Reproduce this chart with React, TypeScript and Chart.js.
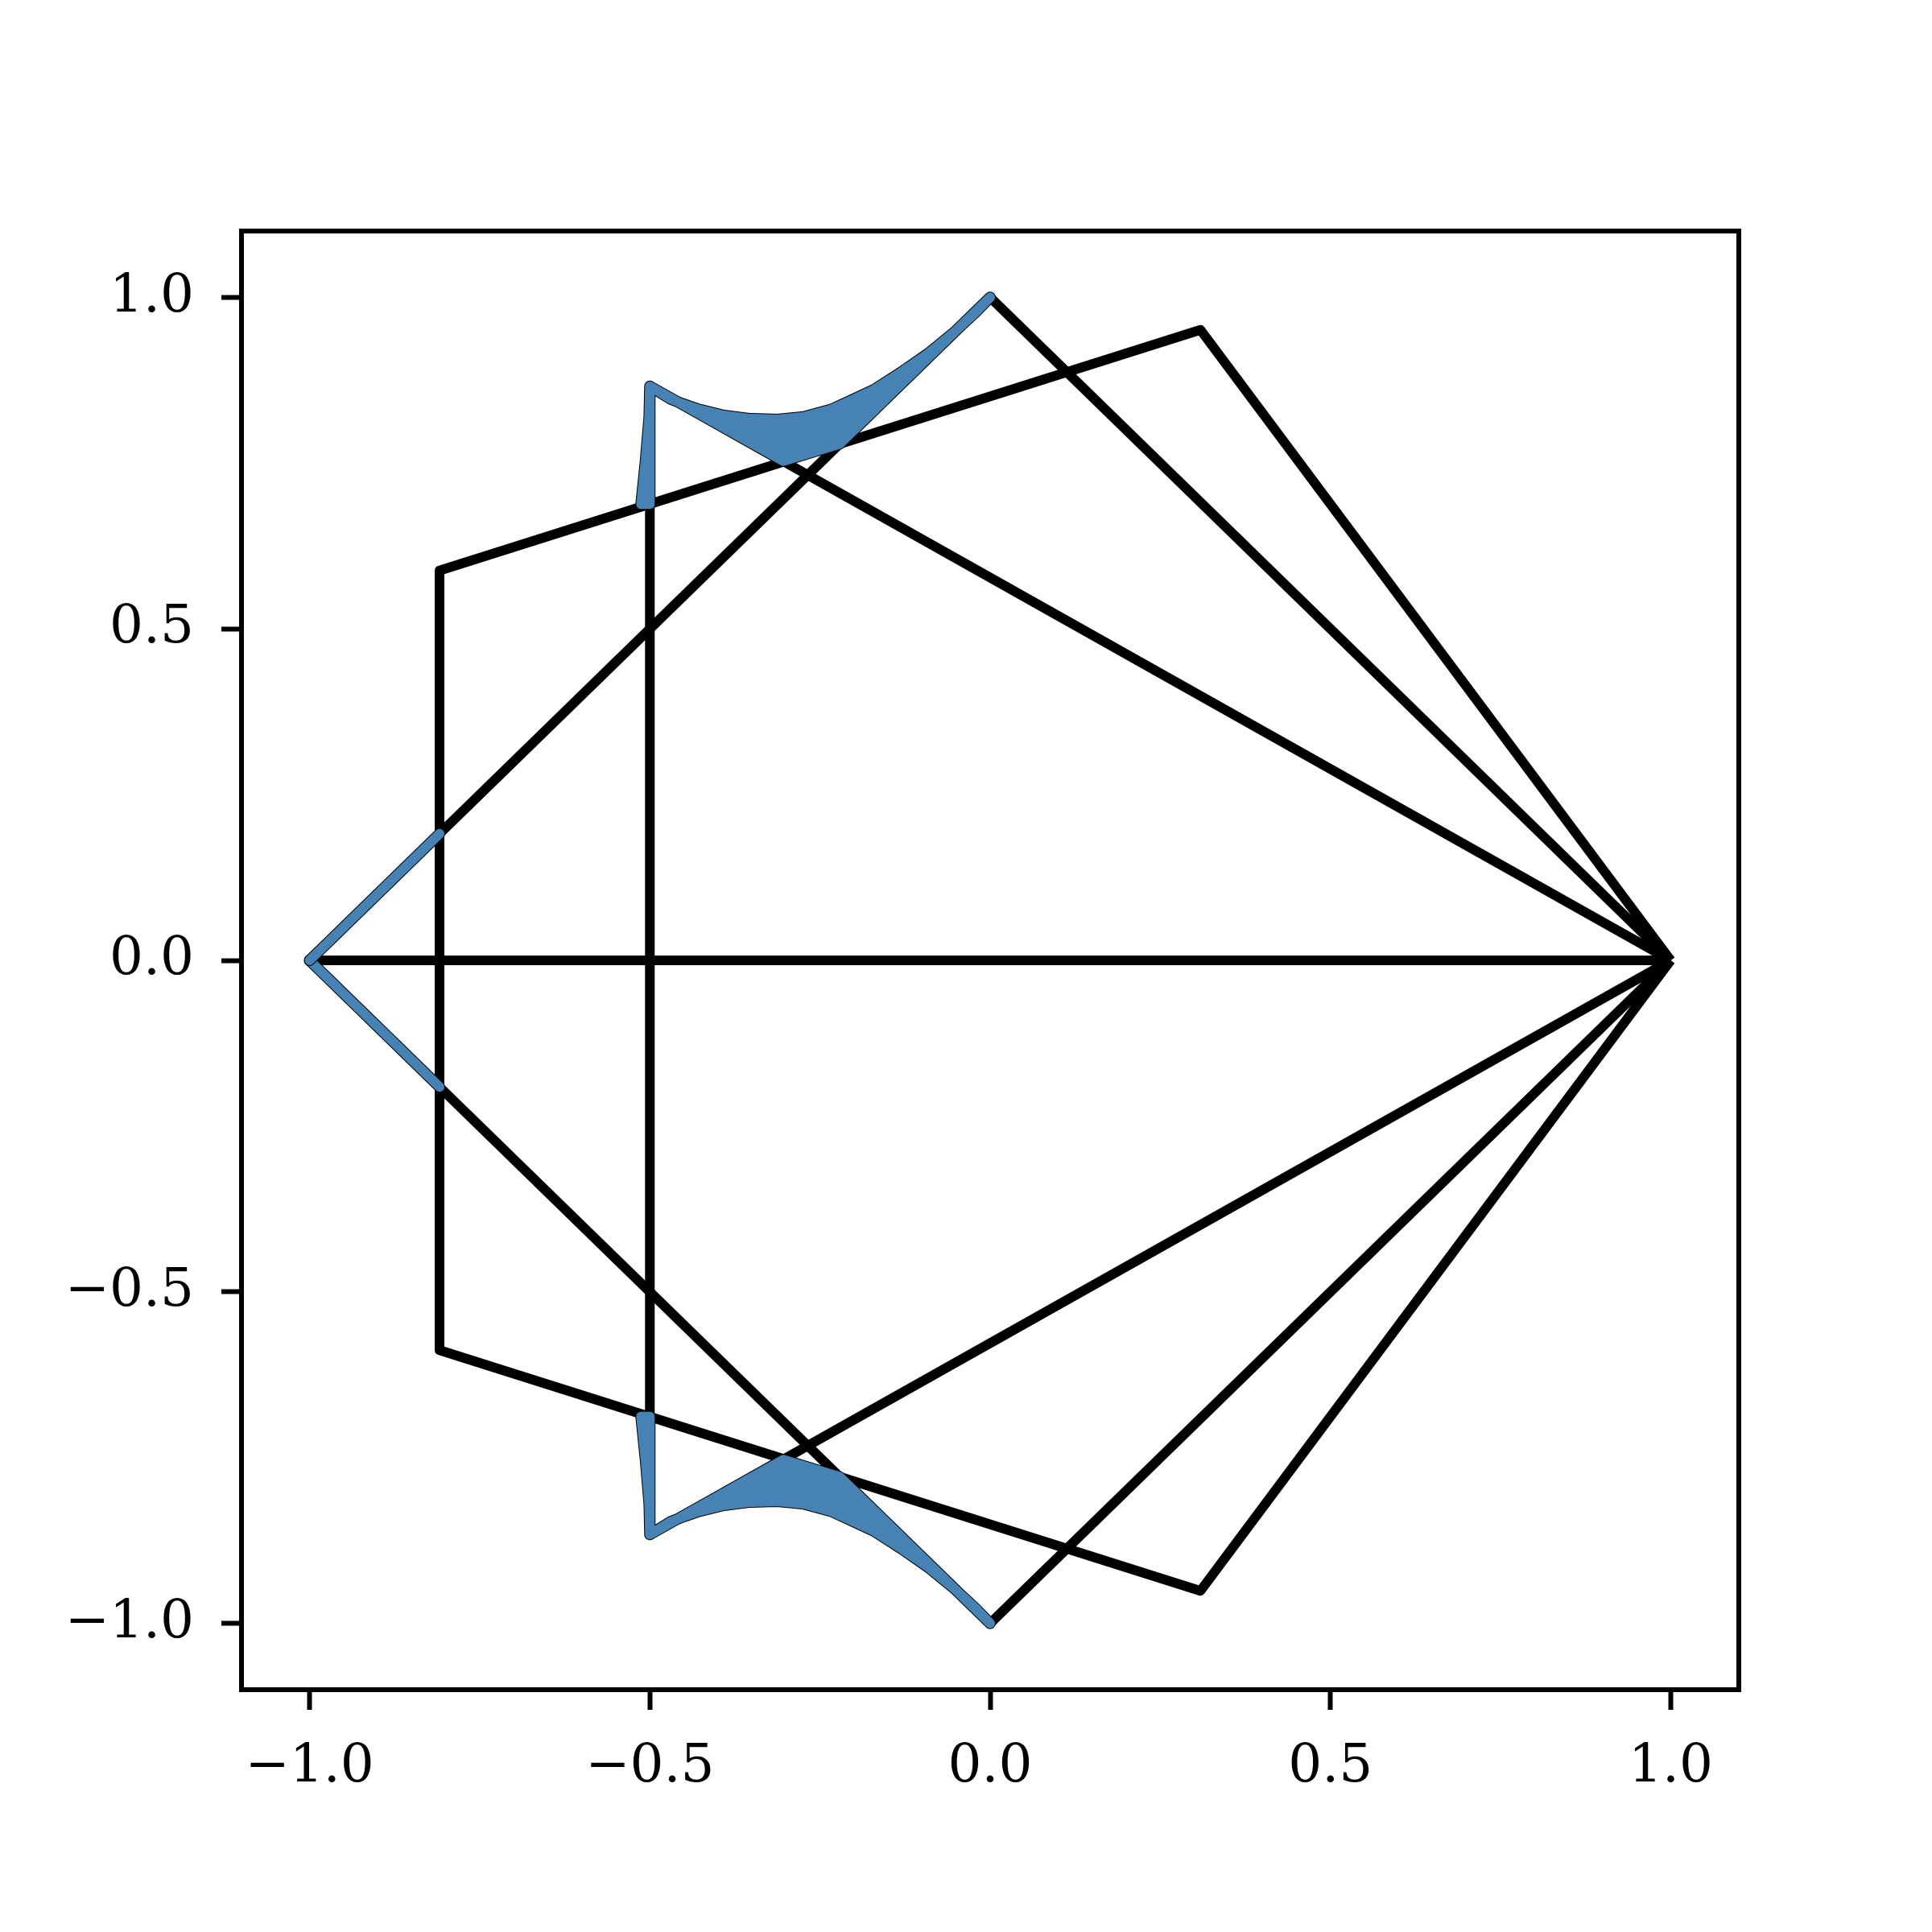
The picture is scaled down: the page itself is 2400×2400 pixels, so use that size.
import React, { useEffect, useRef } from 'react';
import { Chart, registerables } from 'chart.js';

Chart.register(...registerables);

// Tick values and labels
const xTickValues = [-1, -0.5, 0, 0.5, 1];
const xTickLabels = ['\u22121.0', '\u22120.5', '0.0', '0.5', '1.0'];
const yTickValues = [-1, -0.5, 0, 0.5, 1];
const yTickLabels = ['\u22121.0', '\u22120.5', '0.0', '0.5', '1.0'];

// Black polygons (closed)
const digonX = [1, -1];
const digonY = [0, 0];
const triangleX = [1, -0.5, -0.5, 1];
const triangleY = [0, 0.866, -0.866, 0];
const squareX = [1, 0, -1, 0, 1];
const squareY = [0, 1, 0, -1, 0];
const pentagonX = [1, 0.309, -0.809, -0.809, 0.309, 1];
const pentagonY = [0, 0.951, 0.588, -0.588, -0.951, 0];

// Blue filled regions
const topBlueX = [-0.513, -0.5065, -0.501, -0.5, -0.4703, -0.4505, -0.4308, -0.3914, -0.352, -0.3124, -0.273, -0.2336, -0.2099, -0.1704, -0.131, -0.0916, -0.0521, -0.0206, 0, -0.221, -0.304, -0.5, -0.5, -0.513];
const topBlueY = [0.688, 0.753, 0.82, 0.866, 0.847, 0.839, 0.832, 0.822, 0.817, 0.816, 0.82, 0.831, 0.842, 0.861, 0.887, 0.915, 0.948, 0.978, 1, 0.779, 0.753, 0.866, 0.688, 0.688];
const bottomBlueX = [-0.513, -0.5065, -0.501, -0.5, -0.4703, -0.4505, -0.4308, -0.3914, -0.352, -0.3124, -0.273, -0.2336, -0.2099, -0.1704, -0.131, -0.0916, -0.0521, -0.0206, 0, -0.221, -0.304, -0.5, -0.5, -0.513];
const bottomBlueY = [-0.688, -0.753, -0.82, -0.866, -0.847, -0.839, -0.832, -0.822, -0.817, -0.816, -0.82, -0.831, -0.842, -0.861, -0.887, -0.915, -0.948, -0.978, -1, -0.779, -0.753, -0.866, -0.688, -0.688];

// Blue segments on the left
const leftUpperX = [-1, -0.809];
const leftUpperY = [0, 0.191];
const leftLowerX = [-1, -0.809];
const leftLowerY = [0, -0.191];

const BLUE = '#4682B4';
const FONT = 'DejaVu Serif';

const pts = (xs: number[], ys: number[]) => xs.map((x, i) => ({ x, y: ys[i] }));

const blueShape = (xs: number[], ys: number[]) => ({
  data: pts(xs, ys),
  showLine: true,
  borderColor: BLUE,
  backgroundColor: BLUE,
  borderWidth: 12,
  fill: 'shape',
  pointRadius: 0,
  borderJoinStyle: 'round',
  borderCapStyle: 'round',
});

const blueLine = (xs: number[], ys: number[]) => ({
  data: pts(xs, ys),
  showLine: true,
  borderColor: BLUE,
  borderWidth: 12,
  fill: false,
  pointRadius: 0,
  borderJoinStyle: 'round',
  borderCapStyle: 'round',
});

const outline = (xs: number[], ys: number[]) => ({
  data: pts(xs, ys),
  showLine: true,
  borderColor: '#000',
  borderWidth: 14,
  fill: false,
  pointRadius: 0,
  borderJoinStyle: 'round',
  borderCapStyle: 'round',
});

const blackLine = (xs: number[], ys: number[]) => ({
  data: pts(xs, ys),
  showLine: true,
  borderColor: '#000',
  borderWidth: 12,
  fill: false,
  pointRadius: 0,
  borderJoinStyle: 'round',
  borderCapStyle: 'butt',
});

const framePlugin = {
  id: 'frame',
  afterDraw(chart: any) {
    const { ctx, chartArea } = chart;
    ctx.save();
    ctx.strokeStyle = '#000';
    ctx.lineWidth = 6;
    ctx.strokeRect(chartArea.left, chartArea.top, chartArea.right - chartArea.left, chartArea.bottom - chartArea.top);
    ctx.restore();
  },
};

export default function App() {
  const ref = useRef<HTMLCanvasElement | null>(null);
  useEffect(() => {
    document.body.style.margin = '0';
    const canvas = ref.current!;
    const chart = new Chart(canvas, {
      type: 'scatter',
      data: {
        datasets: [
          blueShape(topBlueX, topBlueY),
          outline(topBlueX, topBlueY),
          blueShape(bottomBlueX, bottomBlueY),
          outline(bottomBlueX, bottomBlueY),
          blueLine(leftUpperX, leftUpperY),
          outline(leftUpperX, leftUpperY),
          blueLine(leftLowerX, leftLowerY),
          outline(leftLowerX, leftLowerY),
          blackLine(digonX, digonY),
          blackLine(triangleX, triangleY),
          blackLine(squareX, squareY),
          blackLine(pentagonX, pentagonY),
        ] as any,
      },
      options: {
        responsive: false,
        animation: false,
        devicePixelRatio: 1,
        layout: { padding: { left: 0, top: 287, right: 240, bottom: 0 } },
        plugins: { legend: { display: false }, tooltip: { enabled: false } },
        scales: {
          x: {
            type: 'linear',
            min: -1.1,
            max: 1.1,
            border: { display: false },
            grid: { display: true, drawOnChartArea: false, drawTicks: true, tickLength: 25, tickWidth: 6, tickColor: '#000' },
            ticks: {
              color: '#000',
              font: { family: FONT, size: 66 },
              padding: 32,
              maxRotation: 0,
              callback: (v: any) => xTickLabels[xTickValues.indexOf(Number(v))],
            },
            afterBuildTicks: (s: any) => { s.ticks = xTickValues.map((v) => ({ value: v })); },
            afterFit: (s: any) => { s.height = 301; },
          },
          y: {
            type: 'linear',
            min: -1.1,
            max: 1.1,
            border: { display: false },
            grid: { display: true, drawOnChartArea: false, drawTicks: true, tickLength: 25, tickWidth: 6, tickColor: '#000' },
            ticks: {
              color: '#000',
              font: { family: FONT, size: 66 },
              padding: 34,
              callback: (v: any) => yTickLabels[yTickValues.indexOf(Number(v))],
            },
            afterBuildTicks: (s: any) => { s.ticks = yTickValues.map((v) => ({ value: v })); },
            afterFit: (s: any) => { s.width = 300; },
          },
        },
      } as any,
      plugins: [framePlugin],
    });
    return () => chart.destroy();
  }, []);
  return (
    <div style={{ width: 2400, height: 2400, background: '#fff' }}>
      <canvas ref={ref} width={2400} height={2400} style={{ display: 'block', width: 2400, height: 2400 }} />
    </div>
  );
}
